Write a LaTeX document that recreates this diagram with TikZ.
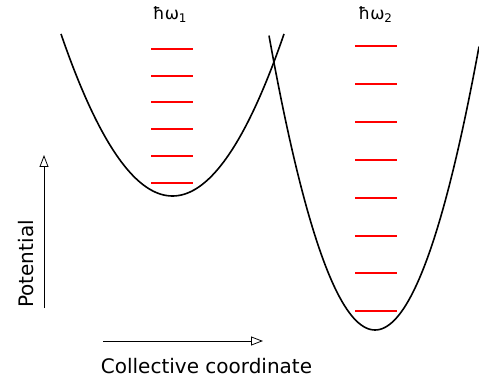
\documentclass[tikz,border=0pt]{standalone}
\usepackage{fontspec}
\setmainfont{DejaVu Sans}
\usetikzlibrary{arrows.meta}

\begin{document}
\begin{tikzpicture}[x=1pt,y=-1pt,>={Triangle[open,length=12pt,width=9pt]},
  well/.style={draw=black,line width=1.6pt},
  level/.style={draw=red,line width=2pt},
  axis/.style={->,draw=black,line width=0.8pt},
  lbl/.style={inner sep=0pt,anchor=base,font=\fontsize{20}{24}\selectfont},
  freq/.style={inner sep=0pt,anchor=base,font=\fontsize{17}{20}\selectfont}]
\useasboundingbox (0,0) rectangle (479,379);
% the two wells
\draw[well] plot[domain=61:284,samples=90,smooth] (\x,{196-0.01303*(\x-172.5)*(\x-172.5)});
\draw[well] plot[domain=269:479,samples=90,smooth] (\x,{330-0.0262*(\x-375)*(\x-375)});
% vibrational levels
\foreach \y in {49,76,102,129,156,183}
  \draw[level] (151,\y) -- (193,\y);
\foreach \y in {46,84,122,160,198,236,273,311}
  \draw[level] (355,\y) -- (397,\y);
\node[freq] (hw1) at (170,20) {ħω\textsubscript{1}};
\node[freq] (hw2) at (375.5,20) {ħω\textsubscript{2}};
% axes
\coordinate (vbot) at (44,308);
\coordinate (vtop) at (44,155);
\coordinate (hleft) at (103,341);
\coordinate (hright) at (263,341);
\draw[axis] (vbot) -- (vtop);
\draw[axis] (hleft) -- (hright);
\node[lbl,rotate=90] (pot) at (33,264) {Potential};
\node[lbl] (coll) at (206.5,373) {Collective coordinate};
\end{tikzpicture}
\end{document}
